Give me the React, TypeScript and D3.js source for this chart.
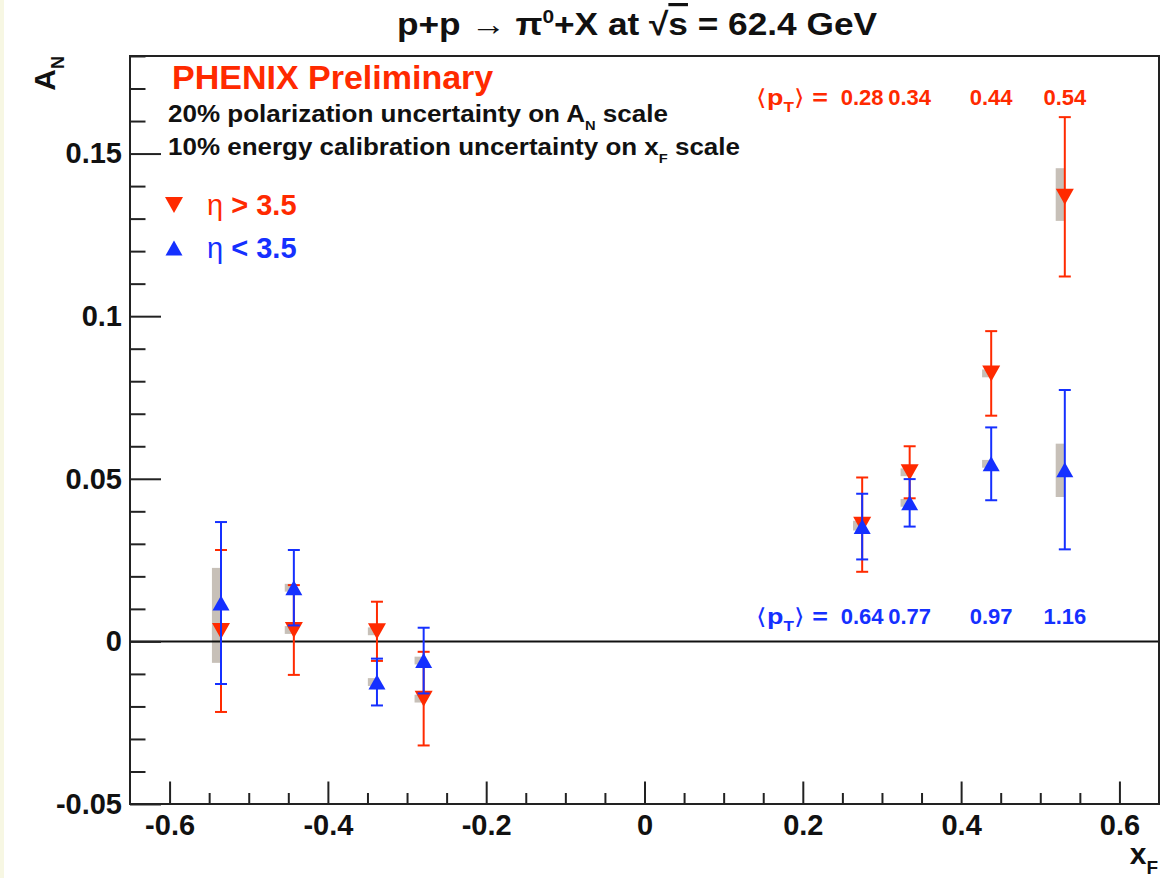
import React, { useEffect, useRef } from 'react'
import * as d3 from 'd3'

// x_F bins (shared by both eta ranges)
const xF = [-0.535, -0.443, -0.338, -0.279, 0.275, 0.335, 0.438, 0.531]

// eta > 3.5 (red, down triangles)
const anRed = [0.0032, 0.0035, 0.0031, -0.0176, 0.0359, 0.0520, 0.0824, 0.1367]
const errRed = [0.0249, 0.0138, 0.0091, 0.0144, 0.0145, 0.0080, 0.0130, 0.0245]
const sysRedLo = [0.0022, 0.0023, 0.0019, -0.0188, 0.0347, 0.0508, 0.0812, 0.1293]
const sysRedHi = [0.0042, 0.0047, 0.0043, -0.0164, 0.0371, 0.0532, 0.0836, 0.1455]

// eta < 3.5 (blue, up triangles)
const anBlue = [0.0118, 0.0165, -0.0125, -0.0059, 0.0353, 0.0426, 0.0546, 0.0528]
const errBlue = [0.0249, 0.0116, 0.0072, 0.0101, 0.0101, 0.0073, 0.0112, 0.0245]
const sysBlueLo = [-0.0066, 0.0153, -0.0137, -0.0071, 0.0341, 0.0414, 0.0534, 0.0444]
const sysBlueHi = [0.0226, 0.0177, -0.0113, -0.0047, 0.0365, 0.0438, 0.0558, 0.0608]

// mean pT labels for the positive x_F bins
const ptRed = ['0.28', '0.34', '0.44', '0.54']
const ptBlue = ['0.64', '0.77', '0.97', '1.16']

// axis ticks
const xMajor = [-0.6, -0.4, -0.2, 0, 0.2, 0.4, 0.6]
const yMajor = [-0.05, 0, 0.05, 0.1, 0.15]

const W = 1176
const H = 878
const FONT = "'Liberation Sans', Arial, Helvetica, sans-serif"
const RED = '#ff2a00'
const BLUE = '#1530ff'
const GRAY = '#c7c0b8'

const x = d3.scaleLinear().domain([-0.65, 0.65]).range([130, 1159])
const y = d3.scaleLinear().domain([-0.05, 0.18]).range([804, 56])

function tri(cx: number, cy: number, w: number, h: number, down: boolean) {
  const p = d3.path()
  if (down) {
    p.moveTo(cx - w / 2, cy - h / 2)
    p.lineTo(cx + w / 2, cy - h / 2)
    p.lineTo(cx, cy + h / 2)
  } else {
    p.moveTo(cx - w / 2, cy + h / 2)
    p.lineTo(cx + w / 2, cy + h / 2)
    p.lineTo(cx, cy - h / 2)
  }
  p.closePath()
  return p.toString()
}

function Series(props: { vals: number[]; errs: number[]; color: string; down: boolean }) {
  const { vals, errs, color, down } = props
  return (
    <g>
      {vals.map((v, i) => {
        const cx = x(xF[i])
        const top = y(v + errs[i])
        const bot = y(v - errs[i])
        return (
          <g key={i}>
            <line x1={cx} x2={cx} y1={top} y2={bot} stroke={color} strokeWidth={2} />
            <line x1={cx - 6} x2={cx + 6} y1={top} y2={top} stroke={color} strokeWidth={2} />
            <line x1={cx - 6} x2={cx + 6} y1={bot} y2={bot} stroke={color} strokeWidth={2} />
            <path d={down ? tri(cx, y(v), 18, 16, true) : tri(cx, y(v), 17, 15, false)} fill={color} />
          </g>
        )
      })}
    </g>
  )
}

function Boxes(props: { lo: number[]; hi: number[] }) {
  const hw = 0.0115
  return (
    <g>
      {props.lo.map((l, i) => (
        <rect key={i} x={x(xF[i] - hw)} width={x(hw) - x(0)} y={y(props.hi[i])}
          height={y(l) - y(props.hi[i])} fill={GRAY} />
      ))}
    </g>
  )
}

export default function App() {
  const axRef = useRef<SVGGElement>(null)

  useEffect(() => {
    const g = d3.select(axRef.current)
    g.selectAll('*').remove()

    const xMinor = d3.range(-12, 13).map(i => i * 0.05).filter(v => !xMajor.some(m => Math.abs(m - v) < 1e-6))
    const yMinor = d3.range(-5, 19).map(i => i * 0.01).filter(v => !yMajor.some(m => Math.abs(m - v) < 1e-6))

    const xAx = g.append('g').attr('transform', 'translate(0,804)')
      .call(d3.axisBottom(x).tickValues(xMajor).tickSize(-22.5).tickSizeOuter(0).tickPadding(10)
        .tickFormat(d => String(+d)))
    g.append('g').attr('transform', 'translate(0,804)')
      .call(d3.axisBottom(x).tickValues(xMinor).tickSize(-11).tickSizeOuter(0).tickFormat(() => ''))

    const yAx = g.append('g').attr('transform', 'translate(130,0)')
      .call(d3.axisLeft(y).tickValues(yMajor).tickSize(-31).tickSizeOuter(0).tickPadding(8)
        .tickFormat(d => String(+d)))
    g.append('g').attr('transform', 'translate(130,0)')
      .call(d3.axisLeft(y).tickValues(yMinor).tickSize(-15.5).tickSizeOuter(0).tickFormat(() => ''))

    g.selectAll('.domain').remove()
    g.selectAll('.tick line').attr('stroke', '#222').attr('stroke-width', 2)
    ;[xAx, yAx].forEach(a => a.selectAll('text')
      .attr('font-family', FONT).attr('font-weight', 'bold').attr('font-size', 29).attr('fill', '#111'))
  }, [])

  const ptX = xF.slice(4)

  return (
    <div style={{ position: 'absolute', left: 0, top: 0 }}>
      <svg width={W} height={H} style={{ display: 'block', background: '#fff' }} fontFamily={FONT}>
        <rect x={0} y={0} width={4} height={H} fill="#f7f7e3" />

        <text x={397} y={35} fontSize={32} fontWeight="bold" fill="#111" textLength={480} lengthAdjust="spacingAndGlyphs">
          p+p <tspan fontWeight="normal">→</tspan> π<tspan dy={-12} fontSize={19}>0</tspan>
          <tspan dy={12}>+X at √</tspan><tspan textDecoration="overline">s</tspan> = 62.4 GeV
        </text>

        <Boxes lo={sysBlueLo} hi={sysBlueHi} />
        <Boxes lo={sysRedLo} hi={sysRedHi} />

        <line x1={130} x2={1159} y1={y(0)} y2={y(0)} stroke="#111" strokeWidth={2} />

        <Series vals={anRed} errs={errRed} color={RED} down={true} />
        <Series vals={anBlue} errs={errBlue} color={BLUE} down={false} />

        <g ref={axRef} />
        <rect x={130} y={56} width={1029} height={748} fill="none" stroke="#222" strokeWidth={2} />

        <text x={172} y={89} fontSize={34} fontWeight="bold" fill={RED}>PHENIX Preliminary</text>
        <text x={168} y={122} fontSize={23} fontWeight="bold" fill="#111" textLength={500} lengthAdjust="spacingAndGlyphs">
          20% polarization uncertainty on A<tspan dy={8} fontSize={13}>N</tspan><tspan dy={-8}> scale</tspan>
        </text>
        <text x={168} y={155} fontSize={23} fontWeight="bold" fill="#111" textLength={572} lengthAdjust="spacingAndGlyphs">
          10% energy calibration uncertainty on x<tspan dy={8} fontSize={13}>F</tspan><tspan dy={-8}> scale</tspan>
        </text>

        <path d={tri(174, 205, 18, 16, true)} fill={RED} />
        <text x={207} y={215} fontSize={29} fill={RED}>η<tspan fontWeight="bold"> &gt; 3.5</tspan></text>
        <path d={tri(174, 248, 17, 15, false)} fill={BLUE} />
        <text x={207} y={258} fontSize={29} fill={BLUE}>η<tspan fontWeight="bold"> &lt; 3.5</tspan></text>

        <g fontSize={22} fontWeight="bold" fill={RED}>
          <text x={828} y={105} textAnchor="end" textLength={72} lengthAdjust="spacingAndGlyphs">
            <tspan fontWeight="normal">⟨</tspan>p<tspan dy={7} fontSize={14}>T</tspan><tspan dy={-7} fontWeight="normal">⟩</tspan> =
          </text>
          {ptRed.map((t, i) => <text key={t} x={x(ptX[i])} y={105} textAnchor="middle">{t}</text>)}
        </g>
        <g fontSize={22} fontWeight="bold" fill={BLUE}>
          <text x={828} y={624} textAnchor="end" textLength={72} lengthAdjust="spacingAndGlyphs">
            <tspan fontWeight="normal">⟨</tspan>p<tspan dy={7} fontSize={14}>T</tspan><tspan dy={-7} fontWeight="normal">⟩</tspan> =
          </text>
          {ptBlue.map((t, i) => <text key={t} x={x(ptX[i])} y={624} textAnchor="middle">{t}</text>)}
        </g>

        <text transform="translate(55,56) rotate(-90)" textAnchor="end" fontSize={30} fontWeight="bold" fill="#111">
          A<tspan dy={9} fontSize={18}>N</tspan>
        </text>
        <text x={1158} y={864} textAnchor="end" fontSize={30} fontWeight="bold" fill="#111">
          x<tspan dy={10} fontSize={19}>F</tspan>
        </text>
      </svg>
    </div>
  )
}
